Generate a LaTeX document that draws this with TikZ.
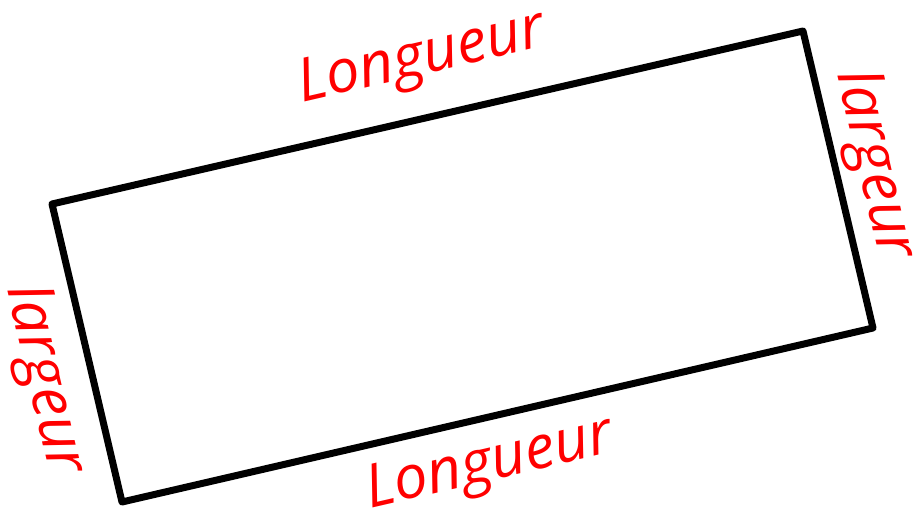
\documentclass[tikz,border=0pt]{standalone}
\usepackage{fontspec}
\setmainfont{Open Sans}
\begin{document}
\begin{tikzpicture}[x=1pt,y=-1pt,
  lbl/.style={text=red,font=\itshape\fontsize{60}{64}\selectfont,inner sep=0pt}]
\useasboundingbox (0,0) rectangle (913,512);
\coordinate (tl) at (52,204);
\coordinate (tr) at (803,31);
\coordinate (br) at (873,328);
\coordinate (bl) at (122,502);
\draw[line width=7pt,line join=round] (tl) -- (tr) -- (br) -- (bl) -- cycle;
\node[lbl,rotate=13] (top) at (422,60) {Longueur};
\node[lbl,rotate=13] (bot) at (490,466) {Longueur};
\node[lbl,rotate=-77] (left) at (44,380) {largeur};
\node[lbl,rotate=-77] (right) at (874,165) {largeur};
\end{tikzpicture}
\end{document}
